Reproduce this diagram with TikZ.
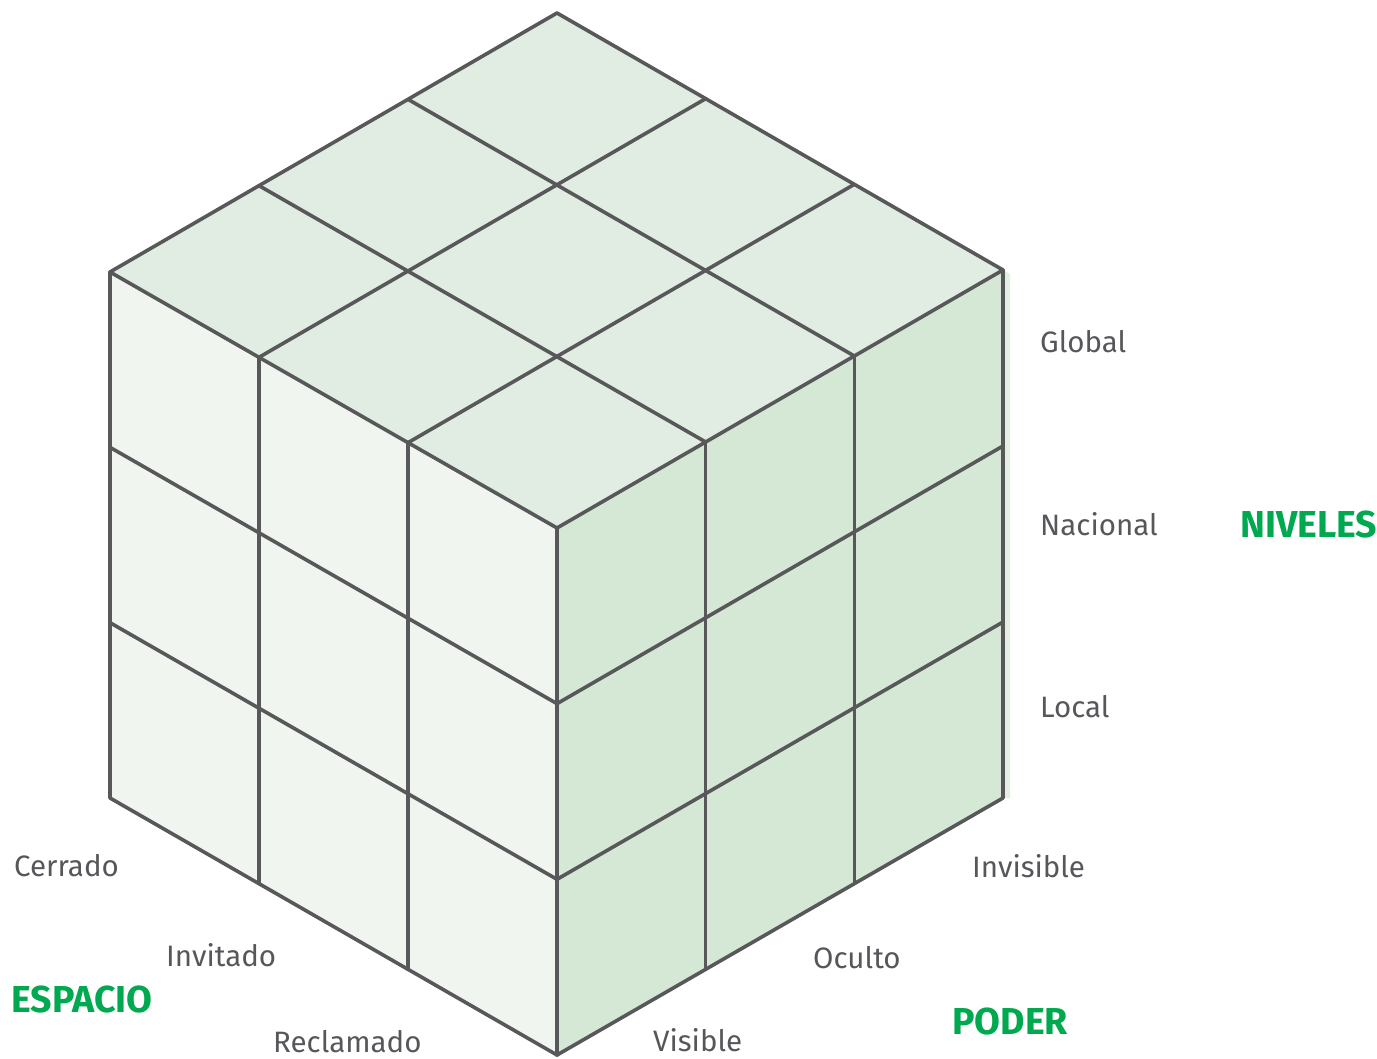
\documentclass[tikz,border=0pt]{standalone}
\usepackage{fontspec}
\setmainfont{Fira Sans}
\usetikzlibrary{calc}
\definecolor{topc}{HTML}{E1EDE3}
\definecolor{leftc}{HTML}{F1F5F0}
\definecolor{rightc}{HTML}{D5E8D6}
\definecolor{edgec}{HTML}{58585B}
\definecolor{txtc}{HTML}{56575A}
\definecolor{grn}{HTML}{00A94F}
\tikzset{
  edge/.style={draw=edgec, line width=3.6pt, line join=round, line cap=round},
  lbl/.style={anchor=base west, inner sep=0pt, text=txtc, font=\fontsize{29.5}{32}\selectfont},
  axis/.style={anchor=base west, inner sep=0pt, text=grn, font=\fontsize{37.5}{40}\selectfont\bfseries},
}
\begin{document}
\begin{tikzpicture}[x=1pt,y=-1pt]
\useasboundingbox (0,0) rectangle (1377,1059);
\coordinate (F) at (557,528);
\coordinate (T) at (557,13);
\coordinate (L) at (110,272);
\coordinate (R) at (1003,270);
\coordinate (LB) at (110,798);
\coordinate (RB) at (1003,798);
\coordinate (B) at (557,1055);
% faint shadow strip
\fill[rightc!70] (R) -- ($(R)+(7,4)$) -- ($(RB)+(7,0)$) -- (RB) -- cycle;
% faces
\fill[topc] (T) -- (L) -- (F) -- (R) -- cycle;
\fill[leftc] (L) -- (F) -- (B) -- (LB) -- cycle;
\fill[rightc] (F) -- (R) -- (RB) -- (B) -- cycle;
% grid
\foreach \i in {1,2} {
  \draw[edge] ($(F)!\i/3!(R)$) -- ($(L)!\i/3!(T)$);
  \draw[edge] ($(F)!\i/3!(L)$) -- ($(R)!\i/3!(T)$);
  \draw[edge] ($(F)!\i/3!(L)$) -- ($(B)!\i/3!(LB)$);
  \draw[edge] ($(F)!\i/3!(B)$) -- ($(L)!\i/3!(LB)$);
  \draw[edge] ($(F)!\i/3!(R)$) -- ($(B)!\i/3!(RB)$);
  \draw[edge] ($(F)!\i/3!(B)$) -- ($(R)!\i/3!(RB)$);
}
% outline
\draw[edge] (T) -- (L) -- (LB) -- (B) -- (RB) -- (R) -- cycle;
\draw[edge] (L) -- (F) -- (R);
\draw[edge] (F) -- (B);
% labels
\node[lbl] (global) at (1040,353) {Global};
\node[lbl] (nacional) at (1040,535) {Nacional};
\node[lbl] (local) at (1040,717) {Local};
\node[axis] (niveles) at (1240,537) {NIVELES};
\node[lbl] (cerrado) at (14,876) {Cerrado};
\node[lbl] (invitado) at (166,966) {Invitado};
\node[lbl] (reclamado) at (273,1052) {Reclamado};
\node[axis] (espacio) at (11,1012) {ESPACIO};
\node[lbl] (invisible) at (972,877) {Invisible};
\node[lbl] (oculto) at (813,968) {Oculto};
\node[lbl] (visible) at (653,1051) {Visible};
\node[axis] (poder) at (952,1034) {PODER};
\end{tikzpicture}
\end{document}
